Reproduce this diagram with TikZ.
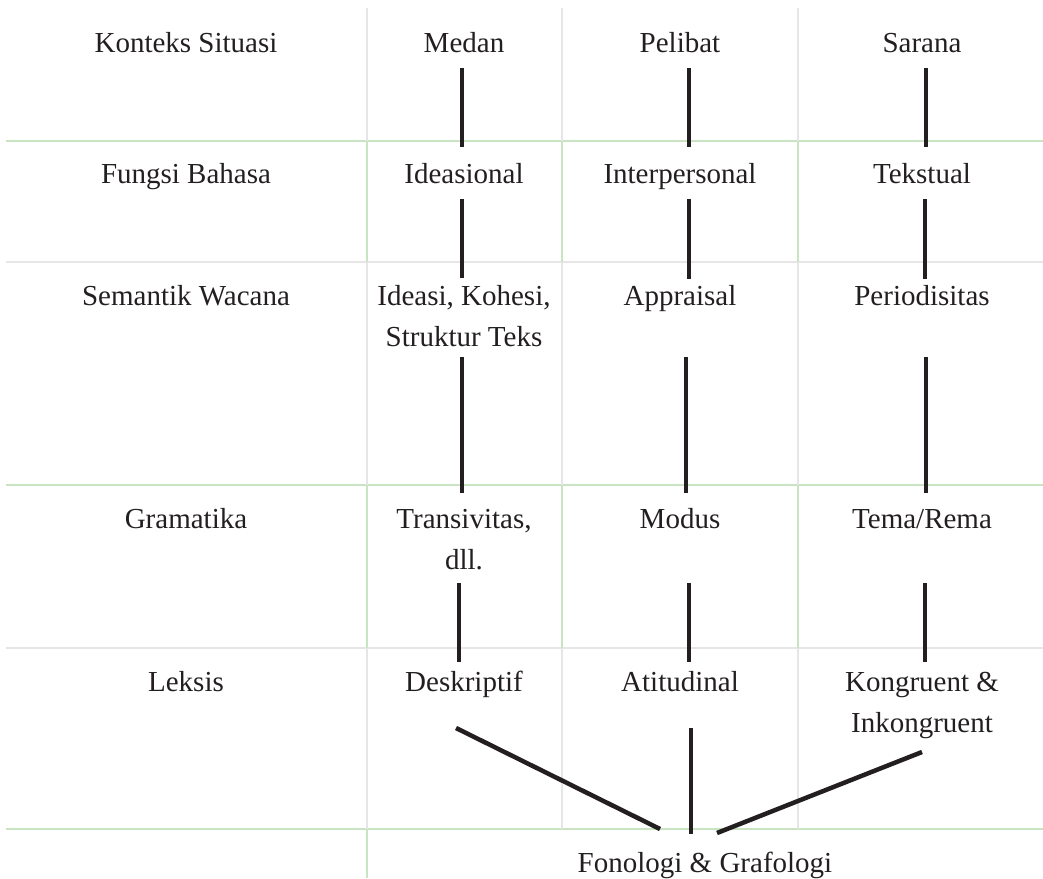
\documentclass[tikz,border=0pt]{standalone}
\usepackage{fontspec}
\setmainfont{Liberation Serif}
\definecolor{linegreen}{RGB}{200,228,194}
\definecolor{linegrey}{RGB}{230,230,230}
\definecolor{barblack}{RGB}{35,31,32}
\tikzset{
	cell/.style={anchor=base, inner sep=0pt, align=center, text=barblack, font=\fontsize{29}{41}\selectfont},
	bar/.style={draw=barblack, line width=4.5pt},
	greenrule/.style={draw=linegreen, line width=1.6pt},
	greyrule/.style={draw=linegrey, line width=1.6pt}
}

\begin{document}
\begin{tikzpicture}[x=1pt,y=-1pt]
	\useasboundingbox (0,0) rectangle (1043,878);
	% table rules
	\foreach \y/\c in {141/linegreen,262/linegrey,485/linegreen,648/linegrey,829/linegreen}
		\draw[draw=\c, line width=1.6pt] (6,\y) -- (1043,\y);
	\foreach \x in {367,562,798} {
		\draw[greyrule] (\x,8) -- (\x,141);
		\draw[greenrule] (\x,141) -- (\x,262);
		\draw[greyrule] (\x,262) -- (\x,485);
		\draw[greenrule] (\x,485) -- (\x,648);
		\draw[greyrule] (\x,648) -- (\x,829);
	}
	\draw[greenrule] (367,829) -- (367,878);

	\node[cell] (konteks) at (186,52) {Konteks Situasi};
	\node[cell] (medan) at (464,52) {Medan};
	\node[cell] (pelibat) at (680,52) {Pelibat};
	\node[cell] (sarana) at (922,52) {Sarana};

	\node[cell] (fungsi) at (186,183) {Fungsi Bahasa};
	\node[cell] (ideasional) at (464,183) {Ideasional};
	\node[cell] (interpersonal) at (680,183) {Interpersonal};
	\node[cell] (tekstual) at (922,183) {Tekstual};

	% two-line cells sit on the baseline of their last line
	\node[cell] (semantik) at (186,305) {Semantik Wacana};
	\node[cell] (ideasi) at (464,346) {Ideasi, Kohesi,\\Struktur Teks};
	\node[cell] (appraisal) at (680,305) {Appraisal};
	\node[cell] (periodisitas) at (922,305) {Periodisitas};

	\node[cell] (gramatika) at (186,528) {Gramatika};
	\node[cell] (transivitas) at (464,569) {Transivitas,\\dll.};
	\node[cell] (modus) at (680,528) {Modus};
	\node[cell] (tema) at (922,528) {Tema/Rema};

	\node[cell] (leksis) at (186,691) {Leksis};
	\node[cell] (deskriptif) at (464,691) {Deskriptif};
	\node[cell] (atitudinal) at (680,691) {Atitudinal};
	\node[cell] (kongruent) at (922,732) {Kongruent \&\\Inkongruent};

	\node[cell] (fonologi) at (705,872) {Fonologi \& Grafologi};

	% links between strata
	\draw[bar] ([shift={(-2,16)}]medan.base) -- ([shift={(-2,-36)}]ideasional.base);
	\draw[bar] ([shift={(9,16)}]pelibat.base) -- ([shift={(9,-36)}]interpersonal.base);
	\draw[bar] ([shift={(4,16)}]sarana.base) -- ([shift={(4,-36)}]tekstual.base);

	\draw[bar] ([shift={(-2,16)}]ideasional.base) -- ([shift={(-2,-68)}]ideasi.base);
	\draw[bar] ([shift={(9,16)}]interpersonal.base) -- ([shift={(9,-26)}]appraisal.base);
	\draw[bar] ([shift={(3,16)}]tekstual.base) -- ([shift={(3,-26)}]periodisitas.base);

	\draw[bar] ([shift={(-2,11)}]ideasi.base) -- ([shift={(-2,-76)}]transivitas.base);
	\draw[bar] ([shift={(6,52)}]appraisal.base) -- ([shift={(6,-35)}]modus.base);
	\draw[bar] ([shift={(4,52)}]periodisitas.base) -- ([shift={(4,-35)}]tema.base);

	\draw[bar] ([shift={(-5,14)}]transivitas.base) -- ([shift={(-5,-29)}]deskriptif.base);
	\draw[bar] ([shift={(9,55)}]modus.base) -- ([shift={(9,-29)}]atitudinal.base);
	\draw[bar] ([shift={(3,55)}]tema.base) -- ([shift={(3,-70)}]kongruent.base);

	\draw[bar] ([shift={(-8,37)}]deskriptif.base) -- ([shift={(-45,-43)}]fonologi.base);
	\draw[bar] ([shift={(11,37)}]atitudinal.base) -- ([shift={(-14,-38)}]fonologi.base);
	\draw[bar] ([shift={(0,20)}]kongruent.base) -- ([shift={(12,-39)}]fonologi.base);
\end{tikzpicture}
\end{document}
